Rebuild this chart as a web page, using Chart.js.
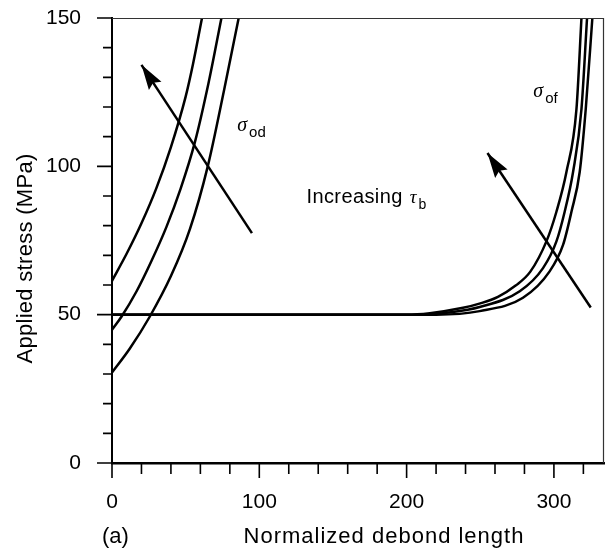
<!DOCTYPE html>
<html>
<head>
<meta charset="utf-8">
<title>Applied stress vs normalized debond length</title>
<script src="https://cdn.jsdelivr.net/npm/chart.js@4.4.1/dist/chart.umd.min.js"></script>
<style>
	html, body { margin: 0; padding: 0; background: #fff; }
	#wrap { width: 612px; height: 548px; position: relative; }
</style>
</head>
<body>
<div id="wrap"><canvas id="debondChart"></canvas></div>
<script>
// sigma_od curves (debond initiation), one per tau_b
const odLength1 = [0, 10, 20, 30, 40, 50, 55, 61.1];
const odStress1 = [61.4, 70.6, 80.8, 92.5, 106.5, 123.5, 134.5, 150];
const odLength2 = [0, 6.4, 16.6, 26.7, 36.9, 46.6, 56.1, 65.5, 74.3];
const odStress2 = [44.9, 49.3, 57.8, 68, 79.5, 92.5, 107.8, 128, 150];
const odLength3 = [0, 12, 25.6, 40, 53, 65, 76, 86];
const odStress3 = [30.5, 38.5, 49.3, 63, 79, 100, 125.5, 150];

// sigma_of curves (fibre failure), one per tau_b
const ofLength1 = [0, 200, 215.7, 238.3, 250, 262, 274, 284, 294.9, 301.7, 308.5, 315.3, 318.7];
const ofStress1 = [50, 50, 50.5, 52.3, 53.8, 56, 59.8, 64.5, 74.7, 84.7, 98.1, 119.3, 150];
const ofLength2 = [0, 210, 230, 249.6, 276.8, 292.6, 301.7, 307.3, 313, 318.7, 322.5];
const ofStress2 = [50, 50, 50.8, 52.6, 57.9, 65.7, 74.7, 84.7, 98.1, 119.3, 150];
const ofLength3 = [0, 220, 249.6, 279, 297.1, 306.2, 311.9, 317.5, 321.6, 326.1];
const ofStress3 = [50, 50, 51.2, 55.7, 64.6, 73.5, 84.7, 98.1, 119.3, 150];

// "increasing tau_b" arrows, tail first then tip
const arrowOdLength = [95, 20];
const arrowOdStress = [77.5, 134.2];
const arrowOfLength = [325, 254.9];
const arrowOfStress = [52.4, 104.5];

const xTickValues = [0, 100, 200, 300];
const yTickValues = [0, 50, 100, 150];
const xMinorStep = 20;
const yMinorStep = 10;

const toPoints = (xs, ys) => xs.map((x, i) => ({ x: x, y: ys[i] }));

const curve = (xs, ys) => ({
	data: toPoints(xs, ys),
	borderColor: '#000',
	borderWidth: 2.5,
	pointRadius: 0,
	cubicInterpolationMode: 'monotone',
	fill: false
});

const arrow = (xs, ys) => ({
	data: toPoints(xs, ys),
	borderColor: '#000',
	borderWidth: 2.5,
	pointRadius: 0,
	tension: 0,
	fill: false,
	isArrow: true
});

// greek symbol with a sans subscript
function drawSymbol(ctx, x, y, sym, sub, symSize, subSize) {
	ctx.font = 'italic ' + symSize + 'px "Liberation Serif", "DejaVu Serif", serif';
	ctx.fillText(sym, x, y);
	const w = ctx.measureText(sym).width;
	ctx.font = subSize + 'px "Liberation Sans", Arial, sans-serif';
	ctx.fillText(sub, x + w + 2, y + 6);
}

const annotations = {
	id: 'annotations',
	afterDatasetsDraw(chart) {
		const ctx = chart.ctx;
		const xs = chart.scales.x;
		const ys = chart.scales.y;
		const area = chart.chartArea;
		ctx.save();

		// arrowheads at the tip of each arrow dataset
		chart.data.datasets.forEach(ds => {
			if (!ds.isArrow) return;
			const tail = ds.data[0];
			const tip = ds.data[ds.data.length - 1];
			const tx = xs.getPixelForValue(tip.x), ty = ys.getPixelForValue(tip.y);
			const bx = xs.getPixelForValue(tail.x), by = ys.getPixelForValue(tail.y);
			const ang = Math.atan2(ty - by, tx - bx);
			const len = 25, half = 7.5;
			ctx.fillStyle = '#000';
			ctx.beginPath();
			ctx.moveTo(tx, ty);
			ctx.lineTo(tx - len * Math.cos(ang) + half * Math.sin(ang), ty - len * Math.sin(ang) - half * Math.cos(ang));
			ctx.lineTo(tx - len * 0.85 * Math.cos(ang), ty - len * 0.85 * Math.sin(ang));
			ctx.lineTo(tx - len * Math.cos(ang) - half * Math.sin(ang), ty - len * Math.sin(ang) + half * Math.cos(ang));
			ctx.closePath();
			ctx.fill();
		});

		// frame: thin top and right edges
		ctx.strokeStyle = '#333';
		ctx.lineWidth = 1.2;
		ctx.beginPath();
		ctx.moveTo(area.left, area.top + 0.5);
		ctx.lineTo(area.right - 0.5, area.top + 0.5);
		ctx.lineTo(area.right - 0.5, area.bottom);
		ctx.stroke();

		// outward tick marks, long on labelled values
		ctx.strokeStyle = '#000';
		ctx.lineWidth = 1.6;
		ctx.beginPath();
		for (let v = ys.min; v <= ys.max; v += yMinorStep) {
			const p = ys.getPixelForValue(v);
			const l = yTickValues.includes(v) ? 15 : 9;
			ctx.moveTo(area.left, p);
			ctx.lineTo(area.left - l, p);
		}
		for (let v = xs.min; v <= xs.max; v += xMinorStep) {
			const p = xs.getPixelForValue(v);
			const l = xTickValues.includes(v) ? 15 : 11;
			ctx.moveTo(p, area.bottom);
			ctx.lineTo(p, area.bottom + l);
		}
		ctx.stroke();

		// curve labels
		ctx.fillStyle = '#000';
		ctx.textBaseline = 'alphabetic';
		ctx.textAlign = 'left';
		drawSymbol(ctx, xs.getPixelForValue(85), ys.getPixelForValue(112), 'σ', 'od', 20, 15);
		drawSymbol(ctx, xs.getPixelForValue(286), ys.getPixelForValue(123.5), 'σ', 'of', 20, 15);
		const ix = xs.getPixelForValue(132), iy = ys.getPixelForValue(87.7);
		ctx.font = '20px "Liberation Sans", Arial, sans-serif';
		ctx.letterSpacing = '0.4px';
		ctx.fillText('Increasing', ix, iy);
		const iw = ctx.measureText('Increasing ').width;
		ctx.letterSpacing = '0px';
		drawSymbol(ctx, ix + iw + 1, iy, 'τ', 'b', 19, 14);

		// axis titles and panel tag
		ctx.font = '22px "Liberation Sans", Arial, sans-serif';
		ctx.textAlign = 'left';
		ctx.fillText('(a)', area.left - 10, chart.height - 5);
		ctx.letterSpacing = '1px';
		ctx.textAlign = 'center';
		ctx.fillText('Normalized debond length', (area.left + area.right) / 2 + 26, chart.height - 5);
		ctx.letterSpacing = '0.3px';
		ctx.translate(32, (area.top + area.bottom) / 2 + 18);
		ctx.rotate(-Math.PI / 2);
		ctx.fillText('Applied stress (MPa)', 0, 0);
		ctx.restore();
	}
};

Chart.defaults.font.family = '"Liberation Sans", Arial, sans-serif';
Chart.defaults.font.size = 21;
Chart.defaults.color = '#000';

new Chart(document.getElementById('debondChart'), {
	type: 'line',
	data: {
		datasets: [
			curve(odLength1, odStress1),
			curve(odLength2, odStress2),
			curve(odLength3, odStress3),
			curve(ofLength1, ofStress1),
			curve(ofLength2, ofStress2),
			curve(ofLength3, ofStress3),
			arrow(arrowOdLength, arrowOdStress),
			arrow(arrowOfLength, arrowOfStress)
		]
	},
	options: {
		responsive: true,
		maintainAspectRatio: false,
		animation: false,
		events: [],
		layout: { padding: { top: 18, right: 8, left: 0, bottom: 0 } },
		plugins: {
			legend: { display: false },
			tooltip: { enabled: false }
		},
		scales: {
			x: {
				type: 'linear',
				min: 0,
				max: 334,
				grid: { display: false },
				border: { display: true, color: '#000', width: 2.5 },
				afterBuildTicks: scale => { scale.ticks = xTickValues.map(v => ({ value: v })); },
				ticks: { padding: 19, maxRotation: 0 },
				afterFit: scale => {
					scale.height = 85;
					scale.paddingLeft = 0;
					scale.paddingRight = 0;
				}
			},
			y: {
				type: 'linear',
				min: 0,
				max: 150,
				grid: { display: false },
				border: { display: true, color: '#000', width: 2 },
				afterBuildTicks: scale => { scale.ticks = yTickValues.map(v => ({ value: v })); },
				ticks: { padding: 23 },
				afterFit: scale => {
					scale.width = 112;
					scale.paddingTop = 0;
					scale.paddingBottom = 0;
				}
			}
		}
	},
	plugins: [annotations]
});
</script>
</body>
</html>
